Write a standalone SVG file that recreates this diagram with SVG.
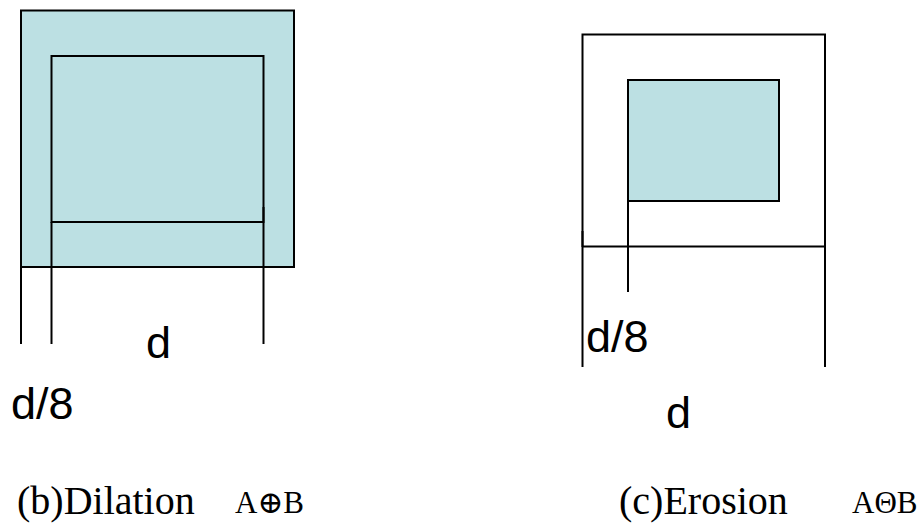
<svg xmlns="http://www.w3.org/2000/svg" width="921" height="525" viewBox="0 0 921 525">
  <style>
    .box { fill: #bce0e3; stroke: #000; stroke-width: 2; }
    .frame { fill: none; stroke: #000; stroke-width: 2; }
    .dim { stroke: #000; stroke-width: 2; fill: none; }
    .lbl { font-family: "Liberation Sans", Arial, sans-serif; font-size: 45px; fill: #000; }
    .cap { font-family: "Liberation Serif", "Times New Roman", serif; font-size: 40px; fill: #000; }
    .op { font-family: "Liberation Serif", "DejaVu Serif", serif; font-size: 31px; fill: #000; }
  </style>
  <rect width="921" height="525" fill="#fff"/>

  <!-- (b) dilation: dilated shape with original square inside -->
  <g id="dilation">
    <rect class="box" x="21" y="10.5" width="273" height="256.5"/>
    <rect class="box" x="51.5" y="56" width="212" height="166"/>
  </g>
  <g id="dilation-dims">
    <line class="dim" x1="21" y1="237" x2="21" y2="344"/>
    <line class="dim" x1="51.5" y1="222" x2="51.5" y2="344"/>
    <line class="dim" x1="263.5" y1="207" x2="263.5" y2="344"/>
    <text class="lbl" x="146" y="358">d</text>
    <text class="lbl" x="11" y="419">d/8</text>
  </g>

  <!-- (c) erosion: original square outline with eroded shape inside -->
  <g id="erosion">
    <polyline class="frame" points="582.5,367 582.5,34.5 825,34.5 825,367"/>
    <line class="dim" x1="582.5" y1="246.5" x2="825" y2="246.5"/>
    <line class="dim" x1="582.5" y1="231" x2="582.5" y2="247" stroke-width="3"/>
    <line class="dim" x1="825" y1="231" x2="825" y2="247" stroke-width="3"/>
    <rect class="box" x="628" y="80" width="151" height="121"/>
  </g>
  <g id="erosion-dims">
    <line class="dim" x1="628" y1="185" x2="628" y2="292"/>
    <text class="lbl" x="586" y="352">d/8</text>
    <text class="lbl" x="666" y="428">d</text>
  </g>

  <!-- captions -->
  <g id="captions">
    <text class="cap" x="17" y="514">(b)Dilation</text>
    <text class="op" x="235" y="513">A⊕B</text>
    <text class="cap" x="619" y="514">(c)Erosion</text>
    <text class="op" x="852" y="513">AΘB</text>
  </g>
</svg>
